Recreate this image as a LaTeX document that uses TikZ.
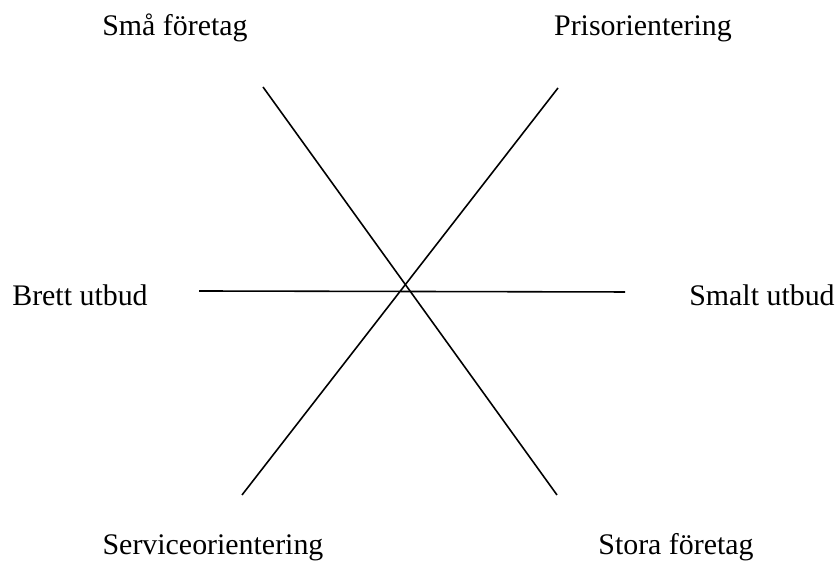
\documentclass[tikz,border=0pt]{standalone}
\usepackage{fontspec}
\setmainfont{Liberation Serif}
\begin{document}
\begin{tikzpicture}[x=0.01cm,y=-0.01cm,
                label/.style={anchor=base,inner sep=0pt,font=\fontsize{8.5}{10}\selectfont},
                axis/.style={draw=black,line width=0.45pt}]
                \useasboundingbox (0,0) rectangle (836,562);

                \node[label] (sma) at (175,36) {Små företag};
                \node[label] (pris) at (643,36) {Prisorientering};
                \node[label] (brett) at (80,306) {Brett utbud};
                \node[label] (smalt) at (762,306) {Smalt utbud};
                \node[label] (service) at (213,555) {Serviceorientering};
                \node[label] (stora) at (676,555) {Stora företag};

                \coordinate (A) at (263,87);
                \coordinate (B) at (557,495);
                \coordinate (C) at (558,88);
                \coordinate (D) at (242,495);
                \coordinate (E) at (199,291);
                \coordinate (F) at (625,292);

                \path [axis] (A) edge (B);
                \path [axis] (C) edge (D);
                \path [axis] (E) edge (F);
            \end{tikzpicture}
\end{document}
